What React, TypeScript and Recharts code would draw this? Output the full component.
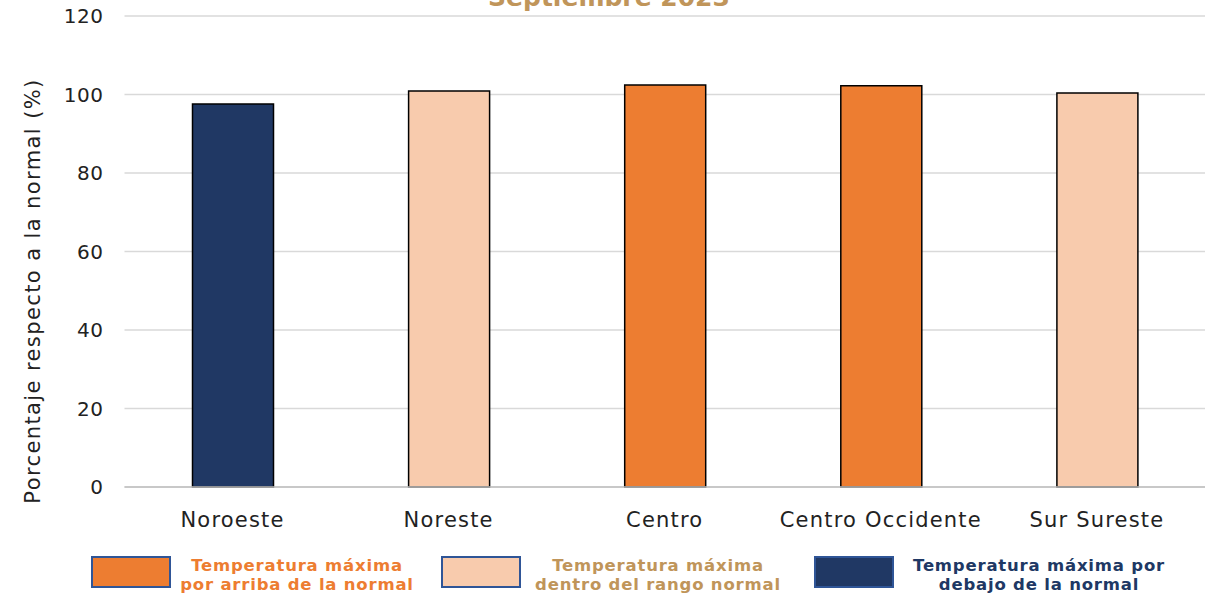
import React from "react";
import { BarChart, Bar, XAxis, YAxis, CartesianGrid, Cell } from "recharts";

const regions = ["Noroeste", "Noreste", "Centro", "Centro Occidente", "Sur Sureste"];
const percentValues = [97.6, 100.9, 102.4, 102.2, 100.4];
const categoryOfRegion = ["below", "within", "above", "above", "within"];
const yTicks = [0, 20, 40, 60, 80, 100, 120];
const titleText = "Septiembre 2023";
const yLabel = "Porcentaje respecto a la normal (%)";
const legendLabels = [
  ["Temperatura máxima", "por arriba de la normal"],
  ["Temperatura máxima", "dentro del rango normal"],
  ["Temperatura máxima por", "debajo de la normal"],
];
const legendKeys = ["above", "within", "below"];

const fillFor: Record<string, string> = {
  above: "#ED7D31",
  within: "#F8CBAD",
  below: "#203864",
};
const legendTextColor: Record<string, string> = {
  above: "#ED7D31",
  within: "#C0955A",
  below: "#203864",
};

const data = regions.map((r, i) => ({ region: r, value: percentValues[i], cat: categoryOfRegion[i] }));

const FONT = "'DejaVu Sans', sans-serif";

export default function App() {
  const legendPos = [
    { sx: 92, tx: 297 },
    { sx: 442, tx: 658 },
    { sx: 815, tx: 1039 },
  ];
  return (
    <div style={{ position: "absolute", left: 0, top: 0, width: 1210, height: 597, background: "#fff", overflow: "hidden", fontFamily: FONT }}>
      <BarChart
        width={1210}
        height={597}
        data={data}
        margin={{ top: 16, right: 5, bottom: 70, left: 40 }}
        barCategoryGap={0}
      >
        <CartesianGrid vertical={false} stroke="#d9d9d9" strokeWidth={1.5} />
        <XAxis
          dataKey="region"
          height={40}
          tickLine={false}
          axisLine={{ stroke: "#bfbfbf", strokeWidth: 1.5 }}
          tick={{ fill: "#222", fontSize: 21, fontFamily: FONT, letterSpacing: 1.2 }}
          tickMargin={19}
          interval={0}
        />
        <YAxis
          width={84.5}
          domain={[0, 120]}
          ticks={yTicks}
          axisLine={false}
          tickLine={false}
          tickMargin={15}
          tick={{ fill: "#222", fontSize: 20, fontFamily: FONT, letterSpacing: 0.5 }}
        />
        <Bar dataKey="value" barSize={81} stroke="#000" strokeWidth={1.5} isAnimationActive={false}>
          {data.map((d, i) => (
            <Cell key={i} fill={fillFor[d.cat]} />
          ))}
        </Bar>
      </BarChart>
      <svg style={{ position: "absolute", left: 0, top: 0 }} width={1210} height={597} pointerEvents="none">
        <text x={609} y={6} textAnchor="middle" fill="#C0955A" fontSize={25} fontWeight="bold" fontFamily={FONT}>
          {titleText}
        </text>
        <text
          x={33}
          y={291}
          transform="rotate(-90 33 291)"
          textAnchor="middle"
          dominantBaseline="central"
          fill="#222"
          fontSize={21}
          letterSpacing={1.4}
          fontFamily={FONT}
        >
          {yLabel}
        </text>
        {legendKeys.map((k, i) => (
          <g key={k}>
            <rect x={legendPos[i].sx} y={557} width={78} height={30} fill={fillFor[k]} stroke="#2F5597" strokeWidth={2} />
            <text x={legendPos[i].tx} y={571} textAnchor="middle" fill={legendTextColor[k]} fontSize={16.5} letterSpacing={0.8} fontWeight="bold" fontFamily={FONT}>
              {legendLabels[i][0]}
            </text>
            <text x={legendPos[i].tx} y={590} textAnchor="middle" fill={legendTextColor[k]} fontSize={16.5} letterSpacing={0.8} fontWeight="bold" fontFamily={FONT}>
              {legendLabels[i][1]}
            </text>
          </g>
        ))}
      </svg>
    </div>
  );
}
